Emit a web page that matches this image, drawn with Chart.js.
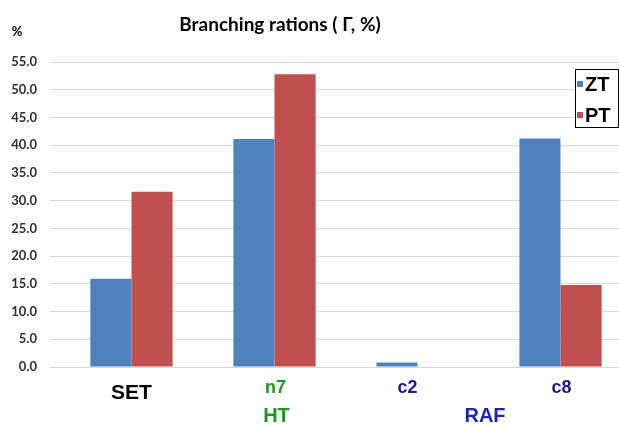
<!DOCTYPE html>
<html>
<head>
<meta charset="utf-8">
<script src="https://cdn.jsdelivr.net/npm/chart.js@4"></script>
<style>
  html, body { margin: 0; padding: 0; background: #fff; overflow: hidden; }
  #wrap { width: 640px; height: 427px; }
</style>
</head>
<body>
<div id="wrap"><canvas id="brChart" width="640" height="427"></canvas></div>
<script>
// categories on the x axis and their colours
const categories = ["SET", "n7", "c2", "c8"];
const categoryColors = ["#000000", "#1f961f", "#1a1a86", "#1a1a86"];

// second row of x labels (groups of categories)
const groupLabels = ["HT", "RAF"];
const groupFirst = [1, 2];
const groupLast = [1, 3];
const groupColors = ["#1f961f", "#2222b0"];

// series values, %
const seriesNames = ["ZT", "PT"];
const ztValues = [15.9, 41.1, 0.8, 41.2];
const ptValues = [31.6, 52.8, 0, 14.8];

// y tick labels
const yTicks = [0, 5, 10, 15, 20, 25, 30, 35, 40, 45, 50, 55];

const FONT = "Lato, 'Open Sans', sans-serif";
const ARIAL = "'Liberation Sans', Arial, sans-serif";

// title, "%" label, x labels and legend box drawn on top
const decor = {
  id: "decor",
  afterDraw(chart) {
    const ctx = chart.ctx;
    const x = chart.scales.x;
    ctx.save();

    ctx.fillStyle = "#000";
    ctx.textAlign = "center";
    ctx.textBaseline = "middle";
    ctx.font = "bold 19px " + FONT;
    ctx.fillText("Branching rations ( Γ, %)", 280, 25);

    ctx.font = "bold 13px " + FONT;
    ctx.fillText("%", 17, 32);

    // category labels (the c2 label sits a bit left of its pair in the original)
    categories.forEach((c, i) => {
      ctx.fillStyle = categoryColors[i];
      if (i === 0) {
        ctx.font = "bold 21px " + ARIAL;
        ctx.fillText(c, x.getPixelForValue(i), 393);
      } else {
        ctx.font = "bold 18px " + ARIAL;
        ctx.fillText(c, x.getPixelForValue(i) + (i === 2 ? -10 : 1), 388);
      }
    });

    // group labels
    ctx.font = "bold 20px " + ARIAL;
    groupLabels.forEach((g, i) => {
      const cx = (x.getPixelForValue(groupFirst[i]) + x.getPixelForValue(groupLast[i])) / 2;
      ctx.fillStyle = groupColors[i];
      ctx.fillText(g, cx + (i === 1 ? -4 : 2), 416);
    });

    // legend
    const lx = 575, ly = 69, lw = 44, lh = 59;
    ctx.fillStyle = "#fff";
    ctx.fillRect(lx, ly, lw, lh);
    ctx.strokeStyle = "#000";
    ctx.lineWidth = 1;
    ctx.strokeRect(lx + 0.5, ly + 0.5, lw - 1, lh - 1);
    ctx.textAlign = "left";
    ctx.font = "bold 20px " + ARIAL;
    chart.data.datasets.forEach((ds, i) => {
      const cy = 84 + i * 31;
      ctx.fillStyle = ds.backgroundColor;
      ctx.fillRect(577, cy - 3, 6, 6);
      ctx.fillStyle = "#000";
      ctx.fillText(ds.label, 585, cy + 1);
    });

    ctx.restore();
  },
};

new Chart(document.getElementById("brChart").getContext("2d"), {
  type: "bar",
  data: {
    labels: categories,
    datasets: [
      { label: seriesNames[0], data: ztValues, backgroundColor: "#4f81bd" },
      { label: seriesNames[1], data: ptValues, backgroundColor: "#c0504d" },
    ],
  },
  options: {
    responsive: false,
    animation: false,
    layout: { padding: { top: 62, bottom: 60, left: 0, right: 8 } },
    datasets: { bar: { categoryPercentage: 0.575, barPercentage: 1.0 } },
    plugins: { legend: { display: false }, title: { display: false }, tooltip: { enabled: false } },
    scales: {
      x: { display: false },
      y: {
        min: 0,
        max: 55,
        afterFit(scale) { scale.width = 60; },
        afterBuildTicks(scale) { scale.ticks = yTicks.map((v) => ({ value: v })); },
        border: { display: false },
        grid: { color: "#d9d9d9", lineWidth: 1, drawTicks: true, tickLength: 10 },
        ticks: {
          padding: 13,
          color: "#303030",
          font: { family: FONT, size: 13, weight: "bold" },
          callback: (v) => v.toFixed(1),
        },
      },
    },
  },
  plugins: [decor],
});
</script>
</body>
</html>
